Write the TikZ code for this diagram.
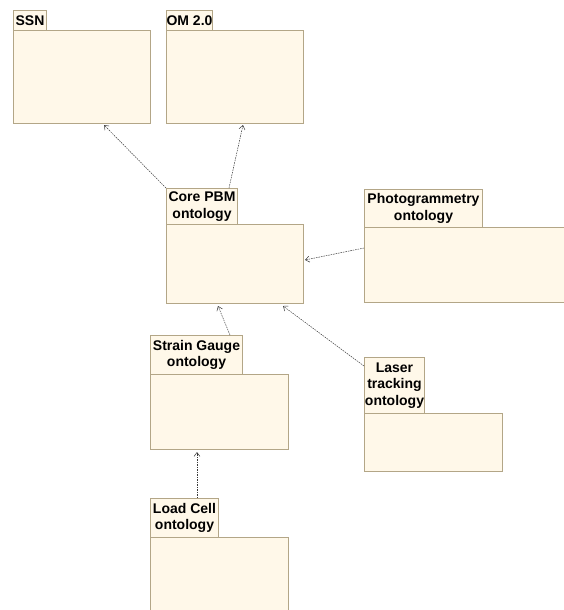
\documentclass[tikz,border=0pt]{standalone}
\usepackage{fontspec}
\setmainfont{Liberation Sans}
\usetikzlibrary{arrows.meta,calc}
\definecolor{pkgfill}{HTML}{FFF8E9}
\definecolor{pkgline}{HTML}{B3A687}
\definecolor{dep}{HTML}{3A3A3A}
\begin{document}
\begin{tikzpicture}[x=1pt,y=-1pt,
  pkg/.style={draw=pkgline,fill=pkgfill,line width=1pt,inner sep=0pt,anchor=north west},
  tab/.style={pkg,font=\fontsize{14}{16.3}\selectfont\bfseries,align=center},
  deparrow/.style={draw=dep,line width=0.5pt,dash pattern=on 1.5pt off 1pt,-{Straight Barb[length=4pt,width=6pt,line width=0.5pt]}}]
\useasboundingbox (0,0) rectangle (564,610);
% bodies
\node[pkg,minimum width=137pt,minimum height=93pt] (ssn) at (13,30) {};
\node[pkg,minimum width=137pt,minimum height=93pt] (om) at (166,30) {};
\node[pkg,minimum width=137pt,minimum height=79pt] (core) at (166,224) {};
\node[pkg,minimum width=202pt,minimum height=75pt] (photo) at (364,227) {};
\node[pkg,minimum width=138pt,minimum height=75pt] (strain) at (150,374) {};
\node[pkg,minimum width=138pt,minimum height=58pt] (laser) at (364,413) {};
\node[pkg,minimum width=138pt,minimum height=76pt] (load) at (150,537) {};
% tabs
\node[tab,minimum width=33pt,minimum height=20pt] (ssnT) at (13,10) {SSN};
\node[tab,minimum width=46pt,minimum height=20pt] (omT) at (166,10) {OM 2.0};
\node[tab,minimum width=71pt,minimum height=36pt] (coreT) at (166,188) {Core PBM\\ontology};
\node[tab,minimum width=118pt,minimum height=38pt] (photoT) at (364,189) {Photogrammetry\\ontology};
\node[tab,minimum width=92pt,minimum height=39pt] (strainT) at (150,335) {Strain Gauge\\ontology};
\node[tab,minimum width=60pt,minimum height=56pt] (laserT) at (364,357) {Laser\\tracking\\ontology};
\node[tab,minimum width=68pt,minimum height=39pt] (loadT) at (150,498) {Load Cell\\ontology};
% dependencies
\draw[deparrow] (coreT.north west) -- ([xshift=91pt,yshift=-1pt]ssn.south west);
\draw[deparrow] ([xshift=63pt]coreT.north west) -- ([xshift=77pt,yshift=-1pt]om.south west);
\draw[deparrow] ([yshift=-21pt]photo.north west) -- ([xshift=1pt,yshift=-36pt]core.north east);
\draw[deparrow] ([xshift=80pt]strainT.north west) -- ([xshift=52pt,yshift=-2pt]core.south west);
\draw[deparrow] ([yshift=-9pt]laserT.north west) -- ([xshift=117pt,yshift=-2pt]core.south west);
\draw[deparrow] ([xshift=47pt]loadT.north west) -- ([xshift=47pt,yshift=-2pt]strain.south west);
\end{tikzpicture}
\end{document}
